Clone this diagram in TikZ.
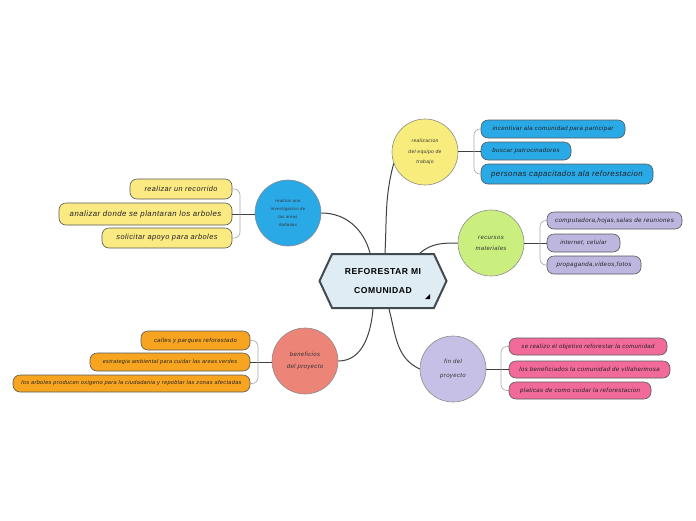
\documentclass[tikz,border=0pt]{standalone}
\usepackage{fontspec}
\setmainfont{Liberation Sans}[LetterSpace=6]
\usetikzlibrary{shapes.symbols}
\definecolor{cblue}{HTML}{2AA9E7}
\definecolor{cyelc}{HTML}{F8EC7C}
\definecolor{cyelb}{HTML}{FBE982}
\definecolor{cgreen}{HTML}{CBEF7F}
\definecolor{cpurc}{HTML}{C6C0E6}
\definecolor{cpurb}{HTML}{BDB7E0}
\definecolor{cpink}{HTML}{F26A9A}
\definecolor{csalm}{HTML}{EC8478}
\definecolor{corange}{HTML}{F7A520}
\definecolor{cctr}{HTML}{E0ECF3}
\definecolor{cdark}{HTML}{404A4F}
\definecolor{ctext}{HTML}{222222}
\tikzset{
  ideabox/.style={draw=black!65, line width=0.6pt, rounded corners=7pt, inner sep=0pt,
    align=center, text=ctext, font=\itshape},
  topic/.style={circle, draw=black!45, line width=0.6pt, minimum size=66pt, inner sep=0pt,
    align=center, text=black!80, font=\itshape},
  mainlink/.style={draw=black!75, line width=1pt},
  stemlink/.style={draw=black!75, line width=0.8pt},
  bracketlink/.style={draw=black!35, line width=0.6pt, rounded corners=6pt},
}
\begin{document}
\begin{tikzpicture}[x=1pt,y=-1pt]
\useasboundingbox (0,0) rectangle (696,520);

% central node
\node[signal, signal to=east and west, signal pointer angle=130, draw=cdark, line width=2pt,
  fill=cctr, minimum width=127pt, minimum height=54pt, inner sep=0pt, align=center,
  font=\bfseries\fontsize{8.6}{19}\selectfont] (ctr) at (383,281) {REFORESTAR MI\\COMUNIDAD};
\fill[black] (425,299) -- (430,299) -- (430,294) -- cycle;

% topics
\node[topic, fill=cyelc, font=\itshape\fontsize{5}{10.5}\selectfont] (yel) at (425,152) {realizacion\\del equipo de\\trabajo};
\node[topic, fill=cblue, font=\itshape\fontsize{4.3}{7.8}\selectfont] (blu) at (288,213) {realizar una\\investigacion de\\las areas\\dañadas};
\node[topic, fill=cgreen, font=\itshape\fontsize{6}{11}\selectfont] (grn) at (491,243) {recursos\\materiales};
\node[topic, fill=cpurc, font=\itshape\fontsize{6}{14}\selectfont] (pur) at (453,369) {fin del\\proyecto};
\node[topic, fill=csalm, font=\itshape\fontsize{6}{12}\selectfont] (sal) at (305,361) {beneficios\\del proyecto};

% main connectors
\draw[mainlink] ([xshift=-13pt]ctr.north) to[out=105,in=0] (blu.east);
\draw[mainlink] ([xshift=2pt]ctr.north) to[out=87,in=255] (yel.200);
\draw[mainlink] ([xshift=37pt]ctr.north) to[out=40,in=180] (grn.west);
\draw[mainlink] ([xshift=-10pt]ctr.south) to[out=-95,in=0] (sal.east);
\draw[mainlink] ([xshift=6pt]ctr.south) to[out=-75,in=155] (pur.west);

% yellow topic children
\node[ideabox, fill=cblue, minimum width=144pt, minimum height=18pt, font=\itshape\fontsize{6.1}{7}\selectfont] (yc1) at (553,129) {incentivar ala comunidad para participar};
\node[ideabox, fill=cblue, minimum width=90pt, minimum height=18pt, font=\itshape\fontsize{6.1}{7}\selectfont] (yc2) at (526,151) {buscar patrocinadores};
\node[ideabox, fill=cblue, minimum width=172pt, minimum height=20pt, font=\itshape\fontsize{7.8}{9}\selectfont] (yc3) at (567,174) {personas capacitados ala reforestacion};
\coordinate (yj) at (474,151);
\draw[stemlink] (yel.east |- yj) -- (yc2.west);
\draw[bracketlink] (yj) |- (yc1.west);
\draw[bracketlink] (yj) |- (yc3.west);

% blue topic children
\node[ideabox, fill=cyelb, minimum width=102pt, minimum height=20pt, font=\itshape\fontsize{7.3}{8}\selectfont] (bc1) at (181,189) {realizar un recorrido};
\node[ideabox, fill=cyelb, minimum width=173pt, minimum height=22pt, font=\itshape\fontsize{7.8}{8}\selectfont] (bc2) at (145.5,214) {analizar donde se plantaran los arboles};
\node[ideabox, fill=cyelb, minimum width=130pt, minimum height=20pt, font=\itshape\fontsize{7.4}{8}\selectfont] (bc3) at (167,238) {solicitar apoyo para arboles};
\coordinate (bj) at (240,214);
\draw[stemlink] (blu.west |- bj) -- (bc2.east);
\draw[bracketlink] (bj) |- (bc1.east);
\draw[bracketlink] (bj) |- (bc3.east);

% green topic children
\node[ideabox, fill=cpurb, minimum width=135pt, minimum height=17pt, font=\itshape\fontsize{6.2}{7}\selectfont] (gc1) at (614.5,220.5) {computadora,hojas,salas de reuniones};
\node[ideabox, fill=cpurb, minimum width=73pt, minimum height=18pt, font=\itshape\fontsize{6}{7}\selectfont] (gc2) at (583.5,243) {internet, celular};
\node[ideabox, fill=cpurb, minimum width=94pt, minimum height=18pt, font=\itshape\fontsize{6.1}{7}\selectfont] (gc3) at (594,265) {propaganda,videos,fotos};
\coordinate (gj) at (540,243);
\draw[stemlink] (grn.east |- gj) -- (gc2.west);
\draw[bracketlink] (gj) |- (gc1.west);
\draw[bracketlink] (gj) |- (gc3.west);

% purple topic children
\node[ideabox, fill=cpink, minimum width=158pt, minimum height=17pt, font=\itshape\fontsize{6}{7}\selectfont] (pc1) at (588,346.5) {se realizo el objetivo reforestar la comunidad};
\node[ideabox, fill=cpink, minimum width=161pt, minimum height=17pt, font=\itshape\fontsize{6.1}{7}\selectfont] (pc2) at (589.5,369.5) {los beneficiados la comunidad de villahermosa};
\node[ideabox, fill=cpink, minimum width=142pt, minimum height=17pt, font=\itshape\fontsize{6.1}{7}\selectfont] (pc3) at (580,390.5) {platicas de como cuidar la reforestacion};
\coordinate (pj) at (501,369.5);
\draw[stemlink] (pur.east |- pj) -- (pc2.west);
\draw[bracketlink] (pj) |- (pc1.west);
\draw[bracketlink] (pj) |- (pc3.west);

% salmon topic children
\node[ideabox, fill=corange, minimum width=109pt, minimum height=19pt, font=\itshape\fontsize{5.9}{7}\selectfont] (sc1) at (195.5,340.5) {calles y parques reforestado};
\node[ideabox, fill=corange, minimum width=160pt, minimum height=18pt, font=\itshape\fontsize{5.5}{7}\selectfont] (sc2) at (170,362) {estrategia ambiental para cuidar las areas verdes};
\node[ideabox, fill=corange, minimum width=237pt, minimum height=17pt, font=\itshape\fontsize{5.6}{7}\selectfont] (sc3) at (131.5,383.5) {los arboles producen oxigeno para la ciudadania y repoblar las zonas afectadas};
\coordinate (sj) at (258,362);
\draw[stemlink] (sal.west |- sj) -- (sc2.east);
\draw[bracketlink] (sj) |- (sc1.east);
\draw[bracketlink] (sj) |- (sc3.east);
\end{tikzpicture}
\end{document}
